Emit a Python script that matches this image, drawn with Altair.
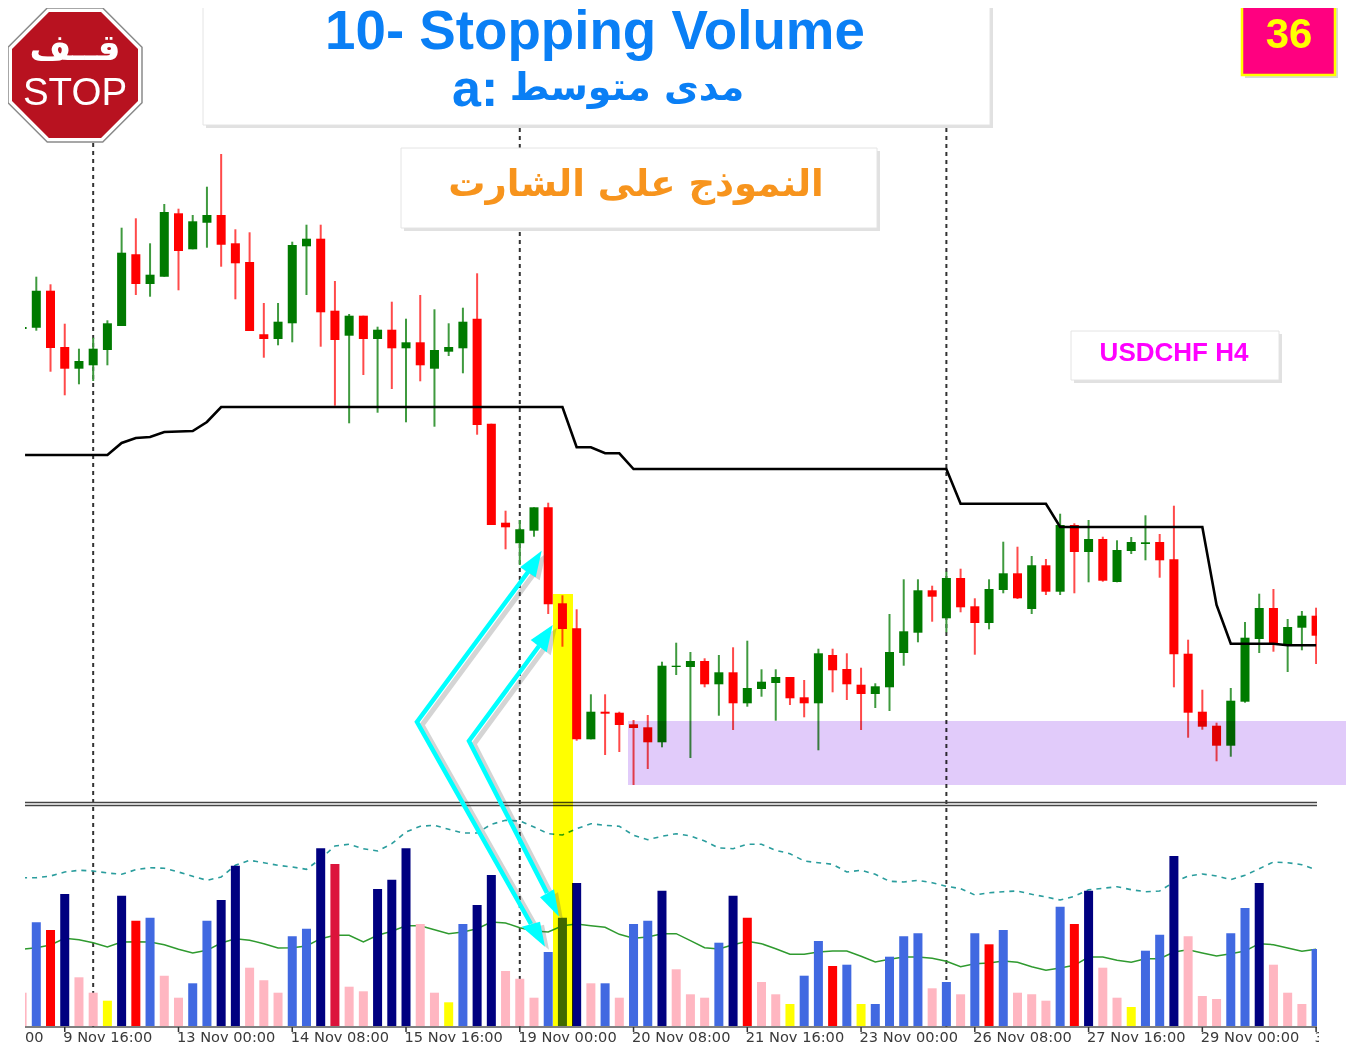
import altair as alt
import pandas as pd

# ---- chart values (price and volume in arbitrary points) ----
bar_index = list(range(-1, 91))
highs = [473,523.3,515.7,476.3,451.3,462.3,479.7,572.3,581.7,556.7,596,591.3,585,613.3,646,570.7,567.7,497,497,558.3,575.3,575.3,519,486,484.3,473.3,498.3,481.3,505,490.7,476.7,492.3,526.7,376.3,289.3,280,292.7,297.3,204.7,190.7,105.7,105.7,88.3,80,85,138.3,157.3,148,141.7,145,152.7,159.3,130.7,130.7,123,120,151.3,151.3,146.7,132.3,116.7,186,220.7,220.7,214.3,228.3,231.3,201.7,220.7,258.3,253.3,244,241,286.3,276.7,280,263.3,259.7,263,284.7,266,294.3,160.3,110.3,77.3,112,178,206.3,211,181,189,192.3]
lows = [471,469.3,428.3,404.7,415.7,419,434.7,474,505,503.3,523.3,509.7,550.7,552.3,533.3,500.7,469,442.3,454.7,457.7,505,453.3,394.3,376.7,425,387.3,411,377.7,418.7,373.3,444,426.7,365.3,275,250.7,235,263.3,186,153.3,59.3,60.7,45,48,15,31,52.7,125,42,112.7,84.3,70,93.3,103.3,79.3,95,82.7,49.7,107.7,100,70,92,89,134.3,157.7,178.3,167.7,187.7,145.3,170.7,206.7,201,186,205,205,206.7,217.7,218.3,217.7,246,239.7,222.3,112.7,62.3,70.3,38.7,43.3,97.3,147,148.3,128,149.7,136]
body_tops = [473,509.3,509.3,453,439,451.3,476.7,547.3,545.7,525.3,588,586.7,578.7,585,585,556.7,538,465.7,478.3,555,561.3,561.3,489.3,484.3,484.3,470.3,470.3,457.7,457.7,450,453,478.3,481.3,376.3,277.3,270.7,292.7,292.7,196.7,171.7,88.3,88.3,87.3,75.7,72.7,134.3,134.3,139,139,127.7,127.7,112,118.3,123,123,102.7,146.7,145,131,115.3,113.7,148,168.7,209.7,209.7,222,222,193.7,211,226.7,226.7,234.7,234.7,275,275,261,261,250,258,257.7,258,240.7,146.3,88.3,74.3,99.3,162.3,192,192,173,184.3,184.3]
body_bottoms = [471,472.3,452,431.3,431.3,434.7,450,474,516,516,523.3,549,550.7,577.3,555.3,536.7,469,461,461,476.7,553.7,487.7,460,464.3,461,461,451.7,451.7,434.7,431.3,448.3,451.7,375,275,272.7,256.7,269.3,195.7,171,60.7,60.7,86.3,75,72,57.7,57.7,133,133,115.7,115.7,96.7,96.7,111,117,101.7,96.7,96.7,129.7,115.7,106,106,112.7,147,167.3,203.3,181.7,192.7,177,177,210,201.7,191,208.3,208.3,248,248,219.3,218,249,256,239.7,145.7,87.3,73.3,54.3,54.3,98.3,161,155,155,172.3,164.3]
candle_dirs = ("G" + "GRRGGGGRGG" + "RGGRRRRGGG" + "RRGRGRGRGG" + "GRRRGGRRRG" + "RRRRGGGRGR" + "GGGRRGRRRG"
               + "GGGRGRRGGR" + "GRGRGRGGGR" + "RRRRGGGRGG" + "R")

volumes = [33.3,103.7,96,132,48.7,33.3,25.3,130.3,105.3,108.3,50.3,28.3,42.7,105.3,126,160.3,58.3,45.7,33.3,89.7,97.3,177.7,162,39.3,34.7,137,146.3,177.7,102,33.3,23.7,102,121,151,55,47.3,28.3,74,108.3,143,42.7,42.7,28.3,102,105.3,135.3,56.7,31.7,28.3,83.3,130.3,108.3,44,31.7,22,50.3,85,60,61.3,22,22,69.3,89.7,92.7,37.7,44,31.7,92.7,81.7,96,33.3,31.7,25.3,119.3,102,135.3,58.3,28.3,19,75.3,91.3,170,89.7,30,27,92.7,118,143,61.3,33.3,22,77]
volume_kinds = ("p" + "brnppynrbppbbnnppp" + "bbncpp" + "nnnppy" + "bnnppp" + "bbnpbp" + "bbnppp" + "bnrppy"
                + "bbrbyb" + "bbbpbp" + "brbppp" + "brnppy" + "bbnppp" + "bbnppp" + "b")
volume_palette = {"p": "#ffb6c1", "b": "#4169e1", "n": "#000080", "r": "#ff0000", "c": "#dc143c", "y": "#ffff00"}

ma_solid = [76.7,78.3,81,87.7,86.3,83.3,79,84,84.3,84,81.3,76.7,73,75.7,83,87.3,85.7,82.3,78,78.3,80,87.3,90.7,90.7,84,90.7,94.7,100.3,100.3,96.3,92.3,94,97.3,104,103,98.3,95,94,100.3,102,100.3,98.7,91.7,87.7,89,92.3,92.3,85.3,78.3,77,81.3,84.7,82.3,77.3,71.7,71.7,74,75,75,69.7,64,66.7,69,69,67.7,64.7,59.3,62.3,63,65,63.7,59.3,55.7,58,60.7,69,69,65.7,63.7,67.3,67.3,74,76.3,73,70,72.3,75,82.3,81.3,78,74.7,76.7]
ma_dashed = [148.3,148.3,150,154,155.7,155,153,151.7,156.3,158.3,157.7,154,149.7,145.7,149,160.7,165.7,163.3,160.7,159,156.7,167.3,180,181.7,177.3,175,182.3,194,199.7,200.7,196.7,193,193,201.7,205.7,205,199,192.3,191,197.3,202.3,200.7,199.7,190.7,186.3,189.7,192.3,190,185,178,177.3,181.7,181.7,175.7,172.3,165,163.3,161.7,154,155.7,151.7,144.7,144,145.7,143.3,139.7,137.3,131,133.3,134.3,135,131.7,129,126,129.7,136.3,137.7,139.3,136.3,134.3,135,144,150,152,150,146.3,150.7,157.3,164,163.3,161.3,156.3]

support_index = [-0.79,5,6,7,8,9,11,12,13,37,38,39,40,41,42,64,65,71,72,82,83,84,87,88,90]
support_price = [345,345,357,362,363,368,369,378,393,393,352.7,352.7,346.7,346.7,331,331,296.3,296.3,273,273,195,156.3,156.3,154.7,154.7]

event_bars = [4, 34, 64]
tick_bars = [2, 10, 18, 26, 34, 42, 50, 58, 66, 74, 82, 90]
tick_labels = ["9 Nov 16:00", "13 Nov 00:00", "14 Nov 08:00", "15 Nov 16:00", "19 Nov 00:00", "20 Nov 08:00",
               "21 Nov 16:00", "23 Nov 00:00", "26 Nov 08:00", "27 Nov 16:00", "29 Nov 00:00", "3"]

W, H = 1338, 1037
BODY = 0.317
px_x = alt.Scale(domain=[8, 8 + W], range=[0, W], zero=False, nice=False)
px_y = alt.Scale(domain=[8 + H, 8], zero=False, nice=False)
bar_x = alt.Scale(domain=[-1.99, (W - 28.3) / 14.22], range=[0, W], zero=False, nice=False)
price_y = alt.Scale(domain=[792 - H, 792], zero=False, nice=False)
vol_y = alt.Scale(domain=[1018 - H, 1018], zero=False, nice=False)


def X(f, s):
    return alt.X(f, type="quantitative", scale=s, axis=None)


def Y(f, s):
    return alt.Y(f, type="quantitative", scale=s, axis=None)


def X2(f):
    return alt.X2(f)


def Y2(f):
    return alt.Y2(f)


def rect(x1, y1, x2, y2, **kw):
    d = pd.DataFrame([{"a": x1, "b": x2, "c": y1, "d": y2}])
    return alt.Chart(d).mark_rect(**kw).encode(x=X("a", px_x), x2=X2("b"), y=Y("c", px_y), y2=Y2("d"))


def panel(x1, y1, x2, y2):
    return [rect(x1 + 3, y1 + 3, x2 + 3, y2 + 3, fill="#d4d4d4", opacity=0.7),
            rect(x1, y1, x2, y2, fill="#ffffff", stroke="#e4e4e4", strokeWidth=1)]


def text(s, x, y, size, color, font="Liberation Sans", weight="bold", align="center"):
    d = pd.DataFrame([{"a": x, "c": y, "t": s}])
    return alt.Chart(d).mark_text(fontSize=size, color=color, font=font, fontWeight=weight, align=align,
                                  baseline="alphabetic").encode(x=X("a", px_x), y=Y("c", px_y), text="t:N")


def shape(path, x, y, **kw):
    d = pd.DataFrame([{"a": x, "c": y}])
    return alt.Chart(d).mark_point(shape=path, size=4, filled=True, opacity=kw.pop("opacity", 1), **kw).encode(
        x=X("a", px_x), y=Y("c", px_y))


def poly(xs, ys, **kw):
    d = pd.DataFrame({"a": xs, "c": ys, "k": range(len(xs))})
    return alt.Chart(d).mark_line(**kw).encode(x=X("a", px_x), y=Y("c", px_y), order="k:Q")


candles = pd.DataFrame({"i": bar_index, "h": highs, "l": lows, "t": body_tops, "b": body_bottoms,
                        "dir": list(candle_dirs)})
candles["x0"] = candles.i - BODY
candles["x1"] = candles.i + BODY
candles["col"] = candles["dir"].map({"G": "#007a00", "R": "#ff0000"})
candles["wick"] = candles["dir"].map({"G": "#3f9a3f", "R": "#ff4a4a"})

vols = pd.DataFrame({"i": bar_index, "v": volumes, "k": list(volume_kinds),
                     "m": ma_solid, "d": ma_dashed})
vols["x0"] = vols.i - BODY
vols["x1"] = vols.i + BODY
vols["base"] = 0
vols["col"] = vols["k"].map(volume_palette)

layers = []

# event verticals
ev = pd.DataFrame({"i": event_bars, "t": [657, 672, 672], "b": [-227, -227, -227]})
layers.append(alt.Chart(ev).mark_rule(color="#333333", strokeWidth=2, strokeDash=[4, 4]).encode(
    x=X("i", bar_x), y=Y("t", price_y), y2=Y2("b")))

# candles
layers.append(alt.Chart(candles).mark_rule(strokeWidth=2).encode(
    x=X("i", bar_x), y=Y("h", price_y), y2=Y2("l"), color=alt.Color("wick:N", scale=None)))
layers.append(alt.Chart(candles).mark_rect().encode(
    x=X("x0", bar_x), x2=X2("x1"), y=Y("t", price_y), y2=Y2("b"), color=alt.Color("col:N", scale=None)))

# support line
layers.append(alt.Chart(pd.DataFrame({"i": support_index, "p": support_price})).mark_line(
    color="#000000", strokeWidth=2.6).encode(x=X("i", bar_x), y=Y("p", price_y)))

# volume indicator lines and bars
layers.append(alt.Chart(vols).mark_line(color="#2f9a2f", strokeWidth=1.5).encode(x=X("i", bar_x), y=Y("m", vol_y)))
layers.append(alt.Chart(vols).mark_line(color="#2a9d9d", strokeWidth=1.6, strokeDash=[5, 5]).encode(
    x=X("i", bar_x), y=Y("d", vol_y)))
layers.append(alt.Chart(vols).mark_rect().encode(
    x=X("x0", bar_x), x2=X2("x1"), y=Y("v", vol_y), y2=Y2("base"), color=alt.Color("col:N", scale=None)))

# masks that crop the partial bars at the edges of the chart window
for m in [(1317, 600, 1326, 670), (1317, 807, 1326, 1026), (12, 320, 25, 335), (12, 807, 25, 1026)]:
    layers.append(rect(m[0], m[1], m[2], m[3], fill="#ffffff"))

# separator, axis line, ticks and labels
layers.append(poly([25, 1317], [802.5, 802.5], color="#444444", strokeWidth=1.6))
layers.append(poly([25, 1317], [805.5, 805.5], color="#444444", strokeWidth=1.6))
layers.append(poly([25, 1317], [1027, 1027], color="#555555", strokeWidth=1.6))
ticks = pd.DataFrame({"i": tick_bars, "t": tick_labels, "a": -1, "b": -6, "lab": -15.5})
layers.append(alt.Chart(ticks).mark_rule(color="#333333", strokeWidth=1.5).encode(
    x=X("i", bar_x), y=Y("a", vol_y), y2=Y2("b")))
layers.append(alt.Chart(ticks).mark_text(font="DejaVu Sans", fontSize=14.6, color="#3a3a3a", align="left",
                                         baseline="alphabetic", dx=-1.5).encode(
    x=X("i", bar_x), y=Y("lab", vol_y), text="t:N"))
layers.append(text("00", 25, 1041.5, 14.6, "#3a3a3a", font="DejaVu Sans", weight="normal", align="left"))
layers.append(rect(1319, 1030, 1334, 1052, fill="#ffffff"))

# highlighted zones, multiplied over what lies below
layers.append(rect(628, 721, 1346, 785, fill="#e1cbfa", blend="multiply"))
layers.append(rect(553, 594, 573, 1026, fill="#ffff00", blend="multiply"))

# panels and their text
layers += panel(203, -5, 990, 125)
layers += panel(401, 148, 877, 228)
layers += panel(1071, 331, 1279, 380)
layers.append(text("10- Stopping Volume", 595, 49, 54.7, "#0a7ff5"))
layers.append(text("a:", 452, 106, 52, "#0a7ff5", align="left"))
layers.append(text("مدى متوسط", 627, 100, 38, "#0a7ff5", font="DejaVu Sans"))
layers.append(text("النموذج على الشارت", 636, 196, 37, "#f7941d", font="DejaVu Sans"))
layers.append(text("USDCHF H4", 1174, 361, 26, "#ff00ff"))

# badge
layers.append(rect(1245, -2, 1338, 78, fill="#c8c8c8", opacity=0.7))
layers.append(rect(1242, -5, 1335, 75, fill="#ff0080", stroke="#ffff00", strokeWidth=2.5))
layers.append(text("36", 1289, 48, 42, "#ffff00"))

# stop sign
OCT = lambda r: "M{a},{b}L{b},{a}L{c},{a}L{d},{b}L{d},{e}L{c},{d}L{b},{d}L{a},{e}Z".format(
    a=-r, b=-0.414 * r, c=0.414 * r, d=r, e=0.414 * r)
layers.append(shape(OCT(67), 75, 75, fill="#ffffff", stroke="#8a8a8a", strokeWidth=1.5))
layers.append(shape(OCT(63), 75, 75, fill="#b81220"))
layers.append(text("قــف", 75, 60, 36, "#ffffff", font="DejaVu Sans"))
layers.append(text("STOP", 75, 105, 38.5, "#ffffff", weight="normal"))

# arrows
arrow_shafts = [([531, 417, 528], [924, 722, 572]), ([547, 469, 539], [893, 741, 646])]
arrow_heads = [("M0,0L-21.7,16.6L-6,26.6Z", 541.7, 550.7), ("M0,0L-23.3,-20L-5,-25Z", 545, 946.7),
               ("M0,0L-22,15L-6,27.3Z", 552.7, 625), ("M0,0L-19,-19.4L-5,-27.4Z", 559, 916.7)]
for xs, ys in arrow_shafts:
    layers.append(poly([a + 5 for a in xs], [b + 3 for b in ys], color="#555555", opacity=0.25, strokeWidth=5))
for p, x, y in arrow_heads:
    layers.append(shape(p, x + 4, y + 3, fill="#555555", opacity=0.25))
for xs, ys in arrow_shafts:
    layers.append(poly(xs, ys, color="#00ffff", strokeWidth=4.5))
for p, x, y in arrow_heads:
    layers.append(shape(p, x, y, fill="#00ffff"))

chart = alt.layer(*layers).resolve_scale(x="independent", y="independent").properties(
    width=W, height=H, padding=0, autosize=alt.AutoSizeParams(type="none"), background="#ffffff"
).configure_view(stroke=None)

chart.save("out.html", embed_options={"renderer": "svg", "actions": False})
